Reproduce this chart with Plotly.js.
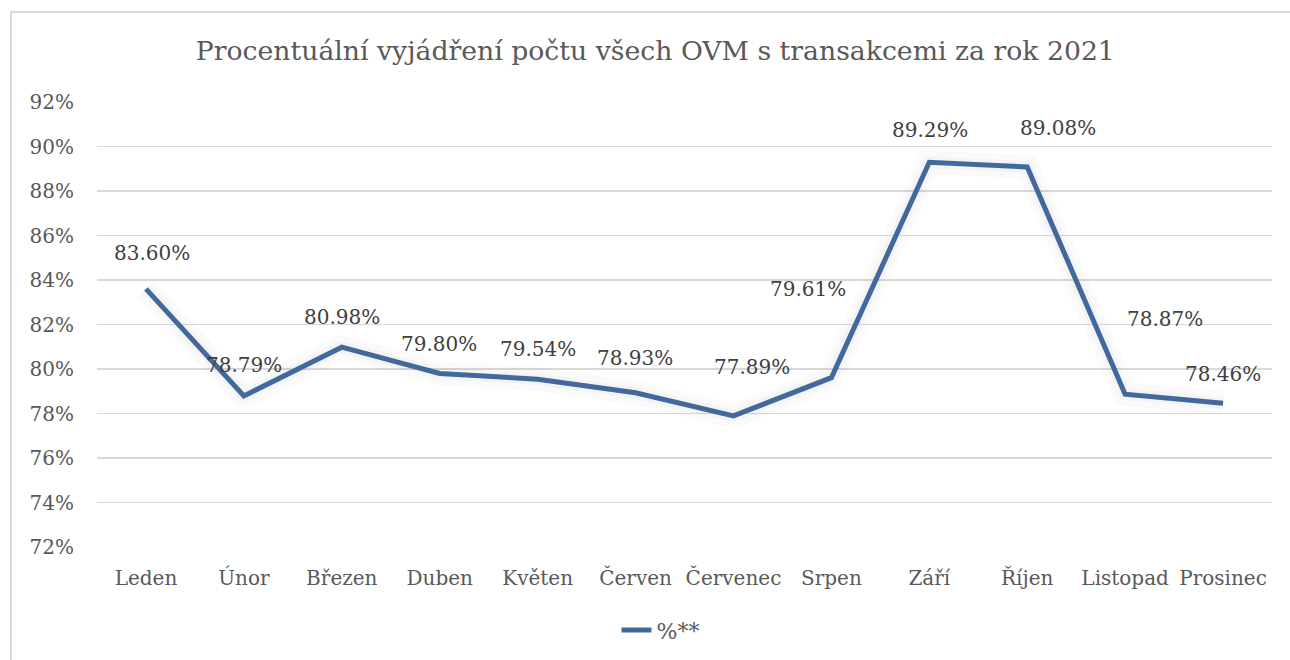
<!DOCTYPE html>
<html>
<head>
<meta charset="utf-8">
<script src="https://cdn.plot.ly/plotly-3.0.1.min.js"></script>
<style>
  body { margin:0; padding:0; background:#fff; }
  #frame { position:absolute; left:10px; top:11px; width:1300px; height:700px; border:2px solid #d9d9d9; box-sizing:border-box; }
  #chart { position:absolute; left:0; top:0; width:1290px; height:660px; }
</style>
</head>
<body>
<div id="frame"></div>
<div id="chart"></div>
<script>
const months = ["Leden","Únor","Březen","Duben","Květen","Červen","Červenec","Srpen","Září","Říjen","Listopad","Prosinec"];
const values = [83.60, 78.79, 80.98, 79.80, 79.54, 78.93, 77.89, 79.61, 89.29, 89.08, 78.87, 78.46];
const seriesName = "%**";
const yTicks = [72,74,76,78,80,82,84,86,88,90,92];
const yTickText = yTicks.map(v => v + "%");

// label offsets in pixels (style only)
const labelDx = [6, 0, 0, -1, 0, -1, 19, -23, 1, 31, 40, 0];
const labelDy = [-36, -31, -30, -29, -30, -35, -49, -89, -32, -39, -75, -29];

const serif = "DejaVu Serif, serif";

const traces = [
  {x: months, y: values, type:"scatter", mode:"lines", showlegend:false, hoverinfo:"skip",
   line:{color:"rgba(0,0,0,0.018)", width:24}},
  {x: months, y: values, type:"scatter", mode:"lines", showlegend:false, hoverinfo:"skip",
   line:{color:"rgba(0,0,0,0.025)", width:12}},
  {x: months, y: values, type:"scatter", mode:"lines", name: seriesName,
   line:{color:"#41699b", width:5}}
];

const annotations = months.map((m,i) => ({
  x: m, y: values[i], xref:"x", yref:"y",
  text: values[i].toFixed(2) + "%", showarrow:false,
  xshift: labelDx[i], yshift: -labelDy[i],
  font:{family: serif, size:20, color:"#404040"}
}));

const layout = {
  width:1290, height:660,
  paper_bgcolor:"rgba(0,0,0,0)", plot_bgcolor:"rgba(0,0,0,0)",
  margin:{l:97, r:18, t:102, b:113},
  title:{text:"Procentuální vyjádření počtu všech OVM s transakcemi za rok 2021",
         x:0.508, xref:"container", y:0.924, yref:"container", yanchor:"middle",
         font:{family: serif, size:26.7, color:"#595959"}},
  xaxis:{type:"category", showgrid:false, zeroline:false, showline:false, ticks:"",
         tickfont:{family: serif, size:20, color:"#595959"}, ticklabelstandoff:17,
         range:[-0.5, 11.5]},
  yaxis:{range:[72,92], tickvals:yTicks, ticktext:yTickText, showgrid:true,
         gridcolor:"#d9d9d9", gridwidth:1.5, zeroline:false, showline:false, ticks:"",
         tickfont:{family: serif, size:20, color:"#595959"}, ticklabelstandoff:22},
  showlegend:true,
  legend:{orientation:"h", x:0.512, xref:"container", xanchor:"center", y:0.045, yref:"container", yanchor:"middle",
          font:{family: serif, size:22, color:"#595959"}},
  annotations: annotations
};

Plotly.newPlot("chart", traces, layout, {displayModeBar:false, staticPlot:true});
</script>
</body>
</html>
